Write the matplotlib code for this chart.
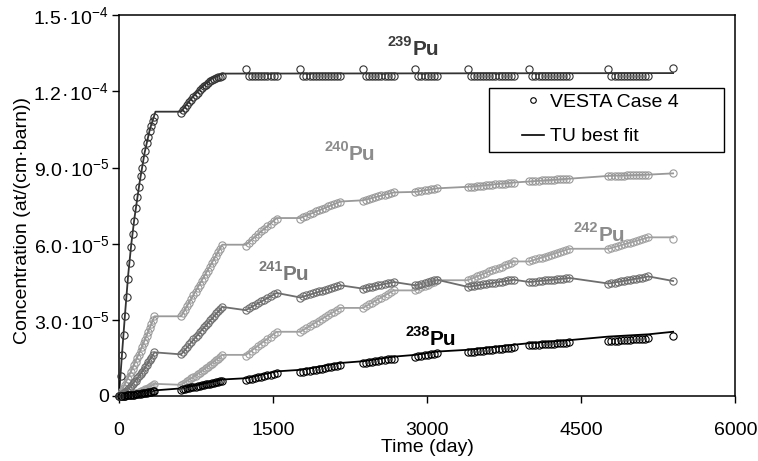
import matplotlib
matplotlib.use('Agg')
import matplotlib.pyplot as plt
from matplotlib.lines import Line2D
from matplotlib.patches import Rectangle

plt.rcParams['font.family'] = ['Liberation Sans', 'DejaVu Sans']
plt.rcParams['mathtext.fontset'] = 'custom'
plt.rcParams['mathtext.rm'] = 'Liberation Sans'
plt.rcParams['mathtext.it'] = 'Liberation Sans:italic'
plt.rcParams['mathtext.bf'] = 'Liberation Sans:bold'

# VESTA time steps (day), one list per irradiation cycle
days = [
    [0, 15, 30, 45, 60, 75, 90, 105, 120, 135, 150, 165, 180, 195, 210, 225,
     240, 255, 270, 285, 300, 315, 330, 345],
    [605, 625, 645, 665, 685, 705, 725, 745, 765, 785, 805, 825, 845, 865, 885,
     905, 925, 945, 965, 985, 1005],
    [1235, 1265, 1295, 1325, 1355, 1385, 1415, 1445, 1475, 1505, 1535],
    [1765, 1795, 1825, 1855, 1885, 1915, 1945, 1975, 2005, 2035, 2065, 2095,
     2125, 2155],
    [2375, 2405, 2435, 2465, 2495, 2525, 2555, 2585, 2615, 2645, 2675],
    [2885, 2915, 2945, 2975, 3005, 3035, 3065, 3095],
    [3395, 3425, 3455, 3485, 3515, 3545, 3575, 3605, 3635, 3665, 3695, 3725,
     3755, 3785, 3815, 3845],
    [3995, 4025, 4055, 4085, 4115, 4145, 4175, 4205, 4235, 4265, 4295, 4325,
     4355, 4385],
    [4765, 4795, 4825, 4855, 4885, 4915, 4945, 4975, 5005, 5035, 5065, 5095,
     5125, 5155],
    [5395],
]

# VESTA Case 4 concentrations, in 1e-5 at/(cm.barn)
pu239 = [
    [0, 0.8, 1.6, 2.4, 3.15, 3.9, 4.6, 5.25, 5.85, 6.4, 6.9, 7.4, 7.85, 8.25,
     8.65, 9.0, 9.35, 9.65, 9.95, 10.2, 10.45, 10.65, 10.85, 11.0],
    [11.15, 11.25, 11.36, 11.46, 11.57, 11.67, 11.77, 11.86, 11.95, 12.04,
     12.12, 12.2, 12.27, 12.33, 12.39, 12.44, 12.49, 12.52, 12.55, 12.58, 12.6],
    [12.9, 12.62, 12.6, 12.6, 12.6, 12.6, 12.6, 12.6, 12.6, 12.61, 12.62],
    [12.9, 12.62, 12.6, 12.6, 12.6, 12.6, 12.6, 12.6, 12.6, 12.6, 12.6, 12.6,
     12.61, 12.62],
    [12.9, 12.62, 12.6, 12.6, 12.6, 12.6, 12.6, 12.6, 12.6, 12.61, 12.62],
    [12.9, 12.62, 12.6, 12.6, 12.6, 12.6, 12.61, 12.62],
    [12.9, 12.62, 12.6, 12.6, 12.6, 12.6, 12.6, 12.6, 12.6, 12.6, 12.6, 12.6,
     12.6, 12.6, 12.61, 12.62],
    [12.9, 12.62, 12.6, 12.6, 12.6, 12.6, 12.6, 12.6, 12.6, 12.6, 12.6, 12.6,
     12.61, 12.62],
    [12.9, 12.62, 12.6, 12.6, 12.6, 12.6, 12.6, 12.6, 12.6, 12.6, 12.6, 12.6,
     12.61, 12.62],
    [12.93],
]
pu240 = [
    [0, 0.09, 0.19, 0.30, 0.42, 0.54, 0.67, 0.80, 0.93, 1.07, 1.21, 1.34, 1.49,
     1.63, 1.77, 1.92, 2.07, 2.22, 2.37, 2.52, 2.68, 2.83, 2.98, 3.14],
    [3.14, 3.27, 3.40, 3.54, 3.68, 3.82, 3.96, 4.10, 4.24, 4.38, 4.52, 4.66,
     4.80, 4.94, 5.08, 5.22, 5.36, 5.50, 5.66, 5.80, 5.94],
    [5.92, 6.04, 6.15, 6.26, 6.37, 6.48, 6.59, 6.69, 6.79, 6.89, 6.99],
    [6.98, 7.04, 7.10, 7.16, 7.21, 7.27, 7.32, 7.37, 7.42, 7.47, 7.52, 7.56,
     7.61, 7.65],
    [7.70, 7.74, 7.77, 7.80, 7.84, 7.87, 7.90, 7.93, 7.96, 7.99, 8.02],
    [8.04, 8.06, 8.08, 8.10, 8.12, 8.14, 8.16, 8.18],
    [8.22, 8.23, 8.25, 8.26, 8.27, 8.29, 8.30, 8.31, 8.33, 8.34, 8.35, 8.36,
     8.37, 8.39, 8.40, 8.41],
    [8.45, 8.46, 8.47, 8.48, 8.49, 8.49, 8.50, 8.51, 8.52, 8.53, 8.54, 8.54,
     8.55, 8.56],
    [8.66, 8.66, 8.67, 8.67, 8.68, 8.68, 8.69, 8.69, 8.70, 8.70, 8.71, 8.71,
     8.72, 8.72],
    [8.77],
]
pu241 = [
    [0, 0.02, 0.06, 0.10, 0.15, 0.20, 0.26, 0.33, 0.39, 0.46, 0.54, 0.61, 0.69,
     0.77, 0.86, 0.94, 1.03, 1.13, 1.22, 1.32, 1.42, 1.51, 1.62, 1.72],
    [1.64, 1.74, 1.84, 1.94, 2.04, 2.13, 2.23, 2.32, 2.42, 2.51, 2.61, 2.70,
     2.80, 2.89, 2.98, 3.07, 3.16, 3.25, 3.34, 3.43, 3.51],
    [3.38, 3.46, 3.53, 3.60, 3.67, 3.74, 3.80, 3.87, 3.93, 4.00, 4.06],
    [3.88, 3.92, 3.96, 4.00, 4.04, 4.08, 4.12, 4.15, 4.19, 4.22, 4.26, 4.29,
     4.33, 4.36],
    [4.23, 4.26, 4.28, 4.31, 4.34, 4.36, 4.39, 4.41, 4.44, 4.46, 4.49],
    [4.36, 4.39, 4.42, 4.45, 4.49, 4.52, 4.55, 4.58],
    [4.30, 4.32, 4.34, 4.36, 4.38, 4.40, 4.42, 4.44, 4.46, 4.47, 4.49, 4.51,
     4.53, 4.55, 4.56, 4.58],
    [4.49, 4.50, 4.51, 4.53, 4.54, 4.55, 4.56, 4.57, 4.58, 4.59, 4.61, 4.62,
     4.63, 4.65],
    [4.43, 4.45, 4.47, 4.50, 4.52, 4.54, 4.56, 4.58, 4.60, 4.62, 4.64, 4.66,
     4.69, 4.71],
    [4.53],
]
pu242 = [
    [0, 0.00, 0.00, 0.01, 0.01, 0.02, 0.03, 0.04, 0.06, 0.07, 0.09, 0.11, 0.13,
     0.15, 0.18, 0.20, 0.23, 0.26, 0.29, 0.33, 0.36, 0.40, 0.44, 0.48],
    [0.44, 0.48, 0.53, 0.58, 0.63, 0.69, 0.74, 0.80, 0.86, 0.92, 0.98, 1.04,
     1.10, 1.16, 1.22, 1.28, 1.34, 1.40, 1.46, 1.53, 1.60],
    [1.58, 1.67, 1.76, 1.85, 1.95, 2.04, 2.14, 2.24, 2.34, 2.44, 2.53],
    [2.53, 2.60, 2.67, 2.75, 2.82, 2.89, 2.96, 3.04, 3.11, 3.18, 3.25, 3.32,
     3.40, 3.47],
    [3.47, 3.54, 3.61, 3.68, 3.75, 3.82, 3.88, 3.95, 4.02, 4.09, 4.16],
    [4.16, 4.22, 4.28, 4.33, 4.39, 4.45, 4.50, 4.56],
    [4.56, 4.61, 4.66, 4.71, 4.76, 4.81, 4.86, 4.91, 4.95, 5.00, 5.05, 5.10,
     5.15, 5.20, 5.25, 5.30],
    [5.30, 5.34, 5.38, 5.42, 5.45, 5.49, 5.53, 5.57, 5.61, 5.65, 5.68, 5.72,
     5.76, 5.80],
    [5.80, 5.83, 5.87, 5.90, 5.94, 5.97, 6.01, 6.04, 6.08, 6.11, 6.15, 6.18,
     6.22, 6.25],
    [6.19],
]
pu238 = [
    [0, 0.00, 0.01, 0.01, 0.01, 0.02, 0.02, 0.03, 0.04, 0.04, 0.05, 0.06, 0.07,
     0.08, 0.09, 0.10, 0.11, 0.12, 0.13, 0.14, 0.16, 0.17, 0.18, 0.20],
    [0.25, 0.27, 0.28, 0.30, 0.32, 0.34, 0.35, 0.37, 0.39, 0.41, 0.42, 0.44,
     0.46, 0.48, 0.49, 0.51, 0.53, 0.55, 0.56, 0.58, 0.60],
    [0.62, 0.65, 0.68, 0.70, 0.73, 0.76, 0.79, 0.82, 0.84, 0.87, 0.90],
    [0.93, 0.95, 0.97, 0.99, 1.02, 1.04, 1.06, 1.08, 1.10, 1.13, 1.15, 1.17,
     1.20, 1.23],
    [1.29, 1.31, 1.33, 1.35, 1.36, 1.38, 1.40, 1.42, 1.44, 1.45, 1.47],
    [1.55, 1.57, 1.59, 1.61, 1.63, 1.64, 1.66, 1.68],
    [1.72, 1.73, 1.75, 1.76, 1.77, 1.79, 1.80, 1.81, 1.83, 1.84, 1.85, 1.87,
     1.88, 1.89, 1.91, 1.92],
    [2.00, 2.01, 2.02, 2.02, 2.03, 2.04, 2.05, 2.06, 2.06, 2.07, 2.08, 2.09,
     2.10, 2.11],
    [2.16, 2.17, 2.18, 2.18, 2.19, 2.20, 2.21, 2.22, 2.23, 2.23, 2.24, 2.25,
     2.26, 2.27],
    [2.36],
]

# TU best fit (1e-5 at/(cm.barn))
fit239_days = [0, 30, 60, 90, 120, 150, 200, 250, 300, 355, 605, 700, 800, 900,
               1005, 5395]
fit239 = [0, 1.7, 3.3, 4.8, 6.0, 7.0, 8.4, 9.6, 10.5, 11.2, 11.2, 11.7, 12.15,
          12.5, 12.7, 12.72]
fit_days = [0, 115, 230, 345, 605, 805, 1005, 1235, 1535, 1765, 2155, 2375,
            2675, 2885, 3095, 3395, 3845, 3995, 4385, 4765, 5155, 5395]
fit240 = [0, 0.95, 2.0, 3.14, 3.14, 4.55, 5.96, 5.96, 7.01, 7.01, 7.66, 7.71,
          8.02, 8.04, 8.18, 8.24, 8.41, 8.45, 8.56, 8.67, 8.72, 8.77]
fit241 = [0, 0.38, 0.98, 1.72, 1.64, 2.6, 3.51, 3.38, 4.06, 3.88, 4.36, 4.23,
          4.49, 4.36, 4.58, 4.30, 4.58, 4.49, 4.65, 4.43, 4.71, 4.53]
fit242 = [0, 0.05, 0.2, 0.48, 0.44, 0.98, 1.62, 1.62, 2.53, 2.53, 3.47, 3.47,
          4.16, 4.16, 4.56, 4.56, 5.30, 5.30, 5.80, 5.80, 6.25, 6.25]
fit238 = [0, 0.03, 0.1, 0.22, 0.3, 0.47, 0.65, 0.7, 0.97, 1.03, 1.3, 1.37,
          1.55, 1.62, 1.75, 1.82, 2.02, 2.08, 2.2, 2.34, 2.43, 2.53]

yticks = [0, 3e-5, 6e-5, 9e-5, 1.2e-4, 1.5e-4]
ytick_labels = ['0', '3.0\u200a·\u200a10$^{-5}$', '6.0\u200a·\u200a10$^{-5}$',
                '9.0\u200a·\u200a10$^{-5}$', '1.2\u200a·\u200a10$^{-4}$',
                '1.5\u200a·\u200a10$^{-4}$']
xticks = [0, 1500, 3000, 4500, 6000]

# isotope labels: mass number, x (day), baseline y, colour
iso_labels = [
    ('239', 2854, 13.44e-5, '#3a3a3a'),
    ('240', 2240, 9.31e-5, '#8c8c8c'),
    ('241', 1597, 4.55e-5, '#7a7a7a'),
    ('242', 4666, 6.12e-5, '#8c8c8c'),
    ('238', 3029, 1.99e-5, '#000000'),
]


def flat(cycles):
    return [v for c in cycles for v in c]


t = flat(days)
series = [
    (pu242, fit_days, fit242, '#a0a0a0'),
    (pu240, fit_days, fit240, '#999999'),
    (pu241, fit_days, fit241, '#6e6e6e'),
    (pu238, fit_days, fit238, '#000000'),
    (pu239, fit239_days, fit239, '#333333'),
]

fig = plt.figure(figsize=(7.58, 4.61), dpi=100)
ax = fig.add_axes([0.157, 0.141, 0.813, 0.826])

for vals, fd, fv, col in series:
    ax.plot(fd, [v * 1e-5 for v in fv], color=col, lw=1.3, zorder=2)
    ax.plot(t, [v * 1e-5 for v in flat(vals)], ls='none', marker='o', ms=5.2,
            mfc='none', mec=col, mew=0.8, zorder=3, clip_on=False)

ax.set_xlim(0, 6000)
ax.set_ylim(0, 1.5e-4)
ax.set_xticks(xticks)
ax.set_xticklabels([str(x) for x in xticks])
ax.set_yticks(yticks)
ax.set_yticklabels(ytick_labels)
ax.tick_params(direction='out', length=5, width=1, labelsize=14, pad=2)
ax.tick_params(axis='x', pad=14)
for s in ax.spines.values():
    s.set_linewidth(1.1)

ax.set_xlabel('Time (day)', fontsize=14, labelpad=0)
ax.set_ylabel('Concentration (at/(cm·barn))', fontsize=14)
ax.yaxis.set_label_coords(-0.142, 0.462)

for mass, x, y, col in iso_labels:
    ax.annotate(mass, (x, y), xytext=(0, 6.5), textcoords='offset points',
                ha='right', va='baseline', fontsize=10.5, fontweight='bold',
                color=col)
    ax.annotate('Pu', (x, y), ha='left', va='baseline', fontsize=15,
                fontweight='bold', color=col)

# legend frame drawn by hand, entries centred inside it
ax.add_patch(Rectangle((0.600, 0.642), 0.382, 0.168, transform=ax.transAxes,
                       fill=True, fc='white', ec='black', lw=1.0, zorder=4))
handles = [
    Line2D([], [], ls='none', marker='o', ms=4, mfc='none', mec='black', mew=0.8),
    Line2D([], [], color='black', lw=1.2),
]
leg = ax.legend(handles, ['VESTA Case 4', 'TU best fit'], loc='center',
                bbox_to_anchor=(0.781, 0.726), frameon=False, fontsize=14,
                handlelength=1.1, handletextpad=0.3, labelspacing=0.85,
                borderpad=0.2)
leg.set_zorder(5)

fig.savefig('out.png', dpi=100)
